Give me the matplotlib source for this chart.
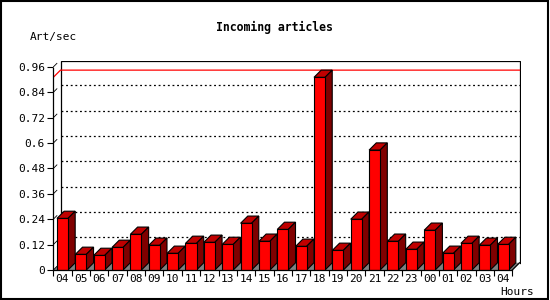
import matplotlib
matplotlib.use("Agg")
import matplotlib.pyplot as plt
from matplotlib.patches import Polygon, Rectangle
import numpy as np

hours = ["04", "05", "06", "07", "08", "09", "10", "11", "12", "13", "14", "15",
         "16", "17", "18", "19", "20", "21", "22", "23", "00", "01", "02", "03", "04"]
rate = [0.244, 0.074, 0.069, 0.107, 0.169, 0.117, 0.079, 0.126, 0.131, 0.121,
        0.221, 0.136, 0.192, 0.112, 0.911, 0.093, 0.240, 0.567, 0.136, 0.098,
        0.188, 0.079, 0.126, 0.117, 0.121]
yticks = [0, 0.12, 0.24, 0.36, 0.48, 0.6, 0.72, 0.84, 0.96]
ytick_labels = ["0", "0.12", "0.24", "0.36", "0.48", "0.6", "0.72", "0.84", "0.96"]

W, H = 550, 300
fig = plt.figure(figsize=(5.5, 3), dpi=100)
plt.rcParams['font.family'] = ['DejaVu Sans Mono']

# plot box in pixels: front axis at x=53.3, back wall right at 521, top 61, floor 270
left_px, right_px, top_px, bot_px = 53.3, 521.0, 61.0, 270.0
slot_px = 18.36
ppu_y = 211.5
depth_px = 7.2

n = len(rate)
x0 = -0.5
x1 = n - 0.5
xmax = x1 + (right_px - left_px - n * slot_px) / slot_px
ymax = (bot_px - top_px) / ppu_y
dx = depth_px / slot_px
dy = depth_px / ppu_y

ax = fig.add_axes([left_px / W, 1 - bot_px / H, (right_px - left_px) / W, (bot_px - top_px) / H])
ax.set_xlim(x0, xmax)
ax.set_ylim(0, ymax)
ax.patch.set_visible(False)
for s in ['top', 'right']:
    ax.spines[s].set_visible(False)
ax.spines['left'].set_bounds(0, ymax - dy)
ax.spines['bottom'].set_bounds(x0, x1)
for s in ['left', 'bottom']:
    ax.spines[s].set_linewidth(0.9)
    ax.spines[s].set_zorder(6)

ax.set_yticks(yticks)
ax.set_yticklabels(ytick_labels, fontsize=8)
ax.tick_params(axis='y', length=4, width=0.8, pad=2)
ax.set_xticks(np.arange(n + 1) - 0.5)
ax.set_xticklabels([])
ax.tick_params(axis='x', which='major', length=4, width=0.8)
ax.set_xticks(np.arange(n), minor=True)
ax.set_xticklabels(hours, minor=True, fontsize=8)
ax.tick_params(axis='x', which='minor', length=0, pad=3)

# floor
ax.add_patch(Polygon([(x0, 0), (x1, 0), (x1 + dx, dy), (x0 + dx, dy)],
                     closed=True, facecolor='#808080', edgecolor='none', zorder=1))
ax.plot([x1, x1 + dx], [0, dy], color='black', lw=0.9, zorder=6)

# back wall
ax.plot([x0 + dx, x0 + dx, x1 + dx, x1 + dx], [dy, ymax, ymax, dy],
        color='black', lw=0.9, zorder=2, solid_joinstyle='miter')

# grid lines on back wall and side diagonals
for v in yticks:
    if v > 0 and v + dy < ymax:
        ax.plot([x0 + dx, x1 + dx], [v + dy, v + dy], color='black', lw=0.9,
                dashes=(1.5, 2.2), zorder=2)
    ax.plot([x0, x0 + dx * 0.5], [v, v + dy * 0.5], color='black', lw=0.6, zorder=2)

# max line
vmax = max(rate)
ax.plot([x0, x0 + dx, x1 + dx], [vmax, vmax + dy, vmax + dy], color='red', lw=0.9, zorder=3)

# bars
bw = 0.6
ax.bar(np.arange(n), rate, width=bw, color='#ff0000', edgecolor='black', linewidth=0.8, zorder=5)
for i, v in enumerate(rate):
    xl = i - bw / 2
    xr = i + bw / 2
    ax.add_patch(Polygon([(xl, v), (xr, v), (xr + dx, v + dy), (xl + dx, v + dy)],
                         closed=True, facecolor='#c00000', edgecolor='black', lw=0.8, zorder=4))
    ax.add_patch(Polygon([(xr, 0), (xr + dx, dy), (xr + dx, v + dy), (xr, v)],
                         closed=True, facecolor='#800000', edgecolor='black', lw=0.8, zorder=4))

# texts
fig.text(274 / W, 1 - 27 / H, "Incoming articles", ha='center', va='center',
         fontsize=8.3, fontweight='bold')
fig.text(30 / W, 1 - 37 / H, "Art/sec", ha='left', va='center', fontsize=8)
fig.text(534 / W, 1 - 292 / H, "Hours", ha='right', va='center', fontsize=8)

# outer frame
fig.patches.append(Rectangle((1 / W, 1 - 298.5 / H), 547 / W, 297.5 / H, transform=fig.transFigure,
                             fill=False, edgecolor='black', lw=1.5))

fig.savefig("out.png", dpi=100)
